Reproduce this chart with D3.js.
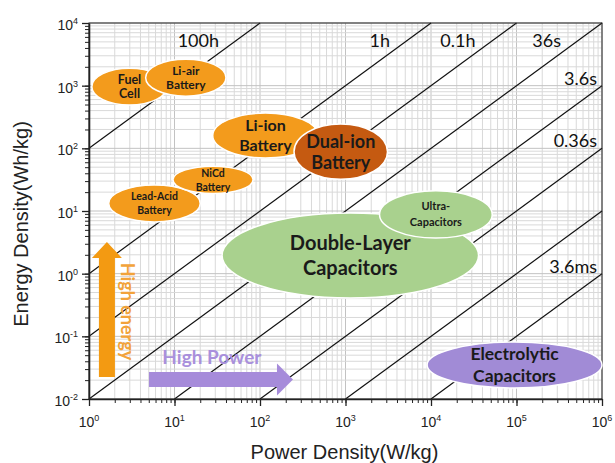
<!DOCTYPE html>
<html>
<head>
<meta charset="utf-8">
<script src="https://d3js.org/d3.v7.min.js"></script>
<style>
  body { margin: 0; background: #fff; }
  .axis path, .axis line { stroke: #222; }
  .lbl { font-family: "Liberation Sans", Arial, sans-serif; fill: #222; }
  .cal { font-family: Lato, "Open Sans", sans-serif; }
</style>
</head>
<body>
<script>
// data
var technologies = ["Fuel Cell", "Li-air Battery", "Lead-Acid Battery", "NiCd Battery",
  "Li-ion Battery", "Dual-ion Battery", "Double-Layer Capacitors", "Ultra-Capacitors",
  "Electrolytic Capacitors"];
var labelLines = [["Fuel", "Cell"], ["Li-air", "Battery"], ["Lead-Acid", "Battery"], ["NiCd", "Battery"],
  ["Li-ion", "Battery"], ["Dual-ion", "Battery"], ["Double-Layer", "Capacitors"], ["Ultra-", "Capacitors"],
  ["Electrolytic", "Capacitors"]];
// power density range (W/kg)
var powerMin = [1.08, 4.6, 1.7, 9.6, 28, 250, 36, 2500, 9000];
var powerMax = [8.2, 40, 20, 83, 480, 3100, 36000, 52000, 1000000];
// energy density range (Wh/kg)
var energyMin = [490, 680, 6.7, 19, 70, 32, 0.41, 3.7, 0.015];
var energyMax = [1900, 2650, 26, 52, 365, 245, 9.3, 21, 0.081];

// discharge time lines, E = P * t (t in hours)
var timeHours = [100, 1, 0.1, 0.01, 0.001, 0.0001, 0.00001, 0.000001];
var timeLabels = ["100h", "1h", "0.1h", "36s", "3.6s", "0.36s", "", "3.6ms"];

var xTicks = [1, 10, 100, 1000, 10000, 100000, 1000000];
var yTicks = [0.01, 0.1, 1, 10, 100, 1000, 10000];
var xTickExp = ["0", "1", "2", "3", "4", "5", "6"];
var yTickExp = ["-2", "-1", "0", "1", "2", "3", "4"];

// looks, kept apart from the data
var style = {
  "Fuel Cell": {fill: "#F39B1C", size: 12.5, gap: 14},
  "Li-air Battery": {fill: "#F39B1C", size: 12, gap: 14},
  "Lead-Acid Battery": {fill: "#F39B1C", size: 10.5, gap: 14},
  "NiCd Battery": {fill: "#F39B1C", size: 10.5, gap: 14},
  "Li-ion Battery": {fill: "#F39B1C", size: 16, gap: 20},
  "Dual-ion Battery": {fill: "#C55A11", size: 18, gap: 21},
  "Double-Layer Capacitors": {fill: "#A9D18E", size: 20, gap: 25},
  "Ultra-Capacitors": {fill: "#A9D18E", size: 11, gap: 16},
  "Electrolytic Capacitors": {fill: "#A18BD6", size: 17.5, gap: 22}
};

var W = 615, H = 463;
var margin = {top: 23, right: 13, bottom: 64, left: 89}
  , width = W - margin.left - margin.right
  , height = H - margin.top - margin.bottom;

var svg = d3.select("body").append("svg")
    .attr("width", W)
    .attr("height", H);
var g = svg.append("g")
    .attr("transform", "translate(" + margin.left + "," + margin.top + ")");

var x = d3.scaleLog().domain([1, 1e6]).range([0, width]);
var y = d3.scaleLog().domain([1e-2, 1e4]).range([height, 0]);

// minor positions 1..9 x 10^k
function minors(lo, hi) {
  var out = [];
  for (var k = lo; k < hi; k++)
    for (var m = 1; m < 10; m++) out.push(m * Math.pow(10, k));
  out.push(Math.pow(10, hi));
  return out;
}
var xMinor = minors(0, 6), yMinor = minors(-2, 4);

// grid
g.append("g").selectAll("line").data(xMinor).enter().append("line")
    .attr("x1", function(d) { return x(d); }).attr("x2", function(d) { return x(d); })
    .attr("y1", 0).attr("y2", height)
    .attr("stroke", function(d) { return xTicks.indexOf(d) >= 0 ? "#c2c2c2" : "#d9d9d9"; })
    .attr("stroke-width", 1);
g.append("g").selectAll("line").data(yMinor).enter().append("line")
    .attr("y1", function(d) { return y(d); }).attr("y2", function(d) { return y(d); })
    .attr("x1", 0).attr("x2", width)
    .attr("stroke", function(d) { return yTicks.indexOf(d) >= 0 ? "#c2c2c2" : "#d9d9d9"; })
    .attr("stroke-width", 1);

// time constant lines
var segs = timeHours.map(function(t, i) {
  var p0 = Math.max(1, 1e-2 / t), p1 = Math.min(1e6, 1e4 / t);
  return {t: t, label: timeLabels[i], p0: p0, e0: p0 * t, p1: p1, e1: p1 * t};
});
g.append("g").selectAll("line").data(segs).enter().append("line")
    .attr("x1", function(d) { return x(d.p0); })
    .attr("y1", function(d) { return y(d.e0); })
    .attr("x2", function(d) { return x(d.p1); })
    .attr("y2", function(d) { return y(d.e1); })
    .attr("stroke", "#111")
    .attr("stroke-width", 1.2);

g.append("g").selectAll("text").data(segs.filter(function(d) { return d.label; })).enter().append("text")
    .attr("class", "cal")
    .attr("text-anchor", "end")
    .attr("x", function(d) { return d.e1 >= 1e4 ? x(d.p1) - 41 : width - 5; })
    .attr("y", function(d) { return d.e1 >= 1e4 ? 24 : y(d.e1) - 1; })
    .style("font-size", "18px")
    .style("fill", "#111")
    .text(function(d) { return d.label; });

// frame
g.append("rect").attr("width", width).attr("height", height)
    .attr("fill", "none").attr("stroke", "#222").attr("stroke-width", 1);

// technology regions
var regions = technologies.map(function(name, i) {
  var x0 = x(powerMin[i]), x1 = x(powerMax[i]), y0 = y(energyMax[i]), y1 = y(energyMin[i]);
  return {name: name, lines: labelLines[i], cx: (x0 + x1) / 2, cy: (y0 + y1) / 2,
    rx: (x1 - x0) / 2, ry: (y1 - y0) / 2};
});
var reg = g.append("g").selectAll("g").data(regions).enter().append("g");
reg.append("ellipse")
    .attr("cx", function(d) { return d.cx; })
    .attr("cy", function(d) { return d.cy; })
    .attr("rx", function(d) { return d.rx; })
    .attr("ry", function(d) { return d.ry; })
    .attr("fill", function(d) { return style[d.name].fill; })
    .attr("stroke", "#fff")
    .attr("stroke-width", 1.5);
reg.each(function(d) {
  var s = style[d.name];
  var t = d3.select(this).append("text")
      .attr("class", "cal")
      .attr("text-anchor", "middle")
      .style("font-size", s.size + "px")
      .style("font-weight", "bold")
      .style("fill", "#1a1a1a");
  d.lines.forEach(function(line, k) {
    t.append("tspan")
        .attr("x", d.cx)
        .attr("y", d.cy + (k - 0.5) * s.gap + s.size * 0.36)
        .text(line);
  });
});

// High energy arrow (orange)
var ax = x(1.62), ayTop = y(3.2), ayBot = y(0.0224);
g.append("path")
    .attr("d", "M" + (ax - 8) + "," + ayBot + "V" + (ayTop + 16) + "H" + (ax - 15) +
      "L" + ax + "," + ayTop + "L" + (ax + 15) + "," + (ayTop + 16) + "H" + (ax + 8) + "V" + ayBot + "Z")
    .attr("fill", "#F39A12");
g.append("text")
    .attr("class", "cal")
    .attr("transform", "translate(" + (ax + 14) + "," + ((ayTop + ayBot) / 2 + 2) + ") rotate(90)")
    .attr("text-anchor", "middle")
    .style("font-size", "18px")
    .style("font-weight", "bold")
    .style("fill", "#F2A33A")
    .text("High energy");

// High Power arrow (purple)
var px0 = x(5.03), px1 = x(243), py = y(0.0205);
g.append("path")
    .attr("d", "M" + px0 + "," + (py - 7.5) + "H" + (px1 - 16) + "V" + (py - 16) +
      "L" + px1 + "," + py + "L" + (px1 - 16) + "," + (py + 16) + "V" + (py + 7.5) + "H" + px0 + "Z")
    .attr("fill", "#A68BDA");
g.append("text")
    .attr("class", "cal")
    .attr("x", x(7.2))
    .attr("y", py - 15)
    .style("font-size", "19px")
    .style("font-weight", "bold")
    .style("fill", "#A990DC")
    .text("High Power");

// axes
g.append("g").attr("class", "axis")
    .attr("transform", "translate(0," + height + ")")
    .call(d3.axisBottom(x).tickValues(xMinor).tickSize(4).tickFormat(""))
    .call(function(a) { a.select(".domain").remove(); });
g.append("g").attr("class", "axis")
    .attr("transform", "translate(0," + height + ")")
    .call(d3.axisBottom(x).tickValues(xTicks).tickSize(7).tickSizeOuter(0).tickFormat(""))
    .call(function(a) { a.select(".domain").attr("stroke-width", 1.6); a.selectAll("line").attr("stroke-width", 1.3); });
g.append("g").attr("class", "axis")
    .call(d3.axisLeft(y).tickValues(yMinor).tickSize(4).tickFormat(""))
    .call(function(a) { a.select(".domain").remove(); });
g.append("g").attr("class", "axis")
    .call(d3.axisLeft(y).tickValues(yTicks).tickSize(7).tickSizeOuter(0).tickFormat(""))
    .call(function(a) { a.select(".domain").attr("stroke-width", 1.6); a.selectAll("line").attr("stroke-width", 1.3); });

// tick labels 10^k
var xl = g.append("g").selectAll("text").data(xTicks).enter().append("text")
    .attr("class", "lbl")
    .attr("text-anchor", "middle")
    .attr("x", function(d) { return x(d); })
    .attr("y", height + 28)
    .style("font-size", "14px");
xl.append("tspan").text("10");
xl.append("tspan").attr("dy", -6).style("font-size", "9px").text(function(d, i) { return xTickExp[i]; });

var yl = g.append("g").selectAll("text").data(yTicks).enter().append("text")
    .attr("class", "lbl")
    .attr("text-anchor", "end")
    .attr("x", -11)
    .attr("y", function(d) { return y(d) + 7; })
    .style("font-size", "14px");
yl.append("tspan").text("10");
yl.append("tspan").attr("dy", -6).style("font-size", "9px").text(function(d, i) { return yTickExp[i]; });

// axis titles
svg.append("text")
    .attr("class", "lbl")
    .attr("text-anchor", "middle")
    .attr("x", margin.left + width / 2 - 1)
    .attr("y", 459)
    .style("font-size", "20px")
    .text("Power Density(W/kg)");
svg.append("text")
    .attr("class", "lbl")
    .attr("text-anchor", "middle")
    .attr("transform", "translate(28," + 224 + ") rotate(-90)")
    .style("font-size", "20px")
    .text("Energy Density(Wh/kg)");
</script>
</body>
</html>
